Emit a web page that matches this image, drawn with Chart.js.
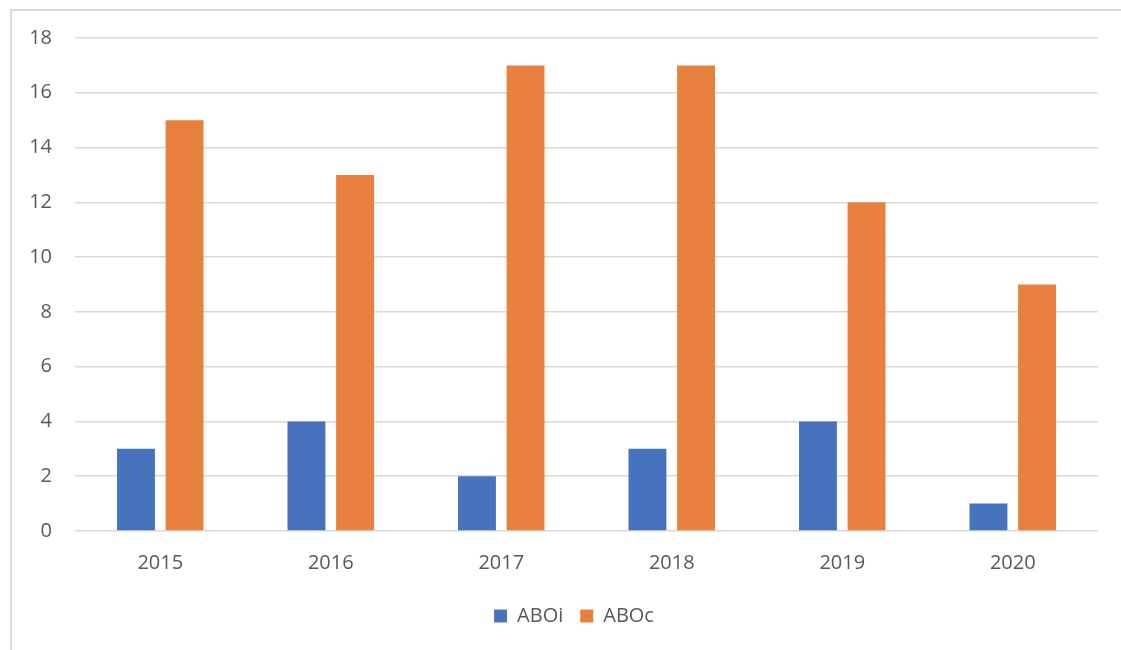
<!DOCTYPE html>
<html lang="en">
<head>
    <meta charset="UTF-8">
    <title>ABOi / ABOc</title>
    <script src="https://cdn.jsdelivr.net/npm/chart.js"></script>
    <style>
        body { margin: 0; background: #fff; }
        #wrap { position: relative; width: 1121px; height: 650px; overflow: hidden; }
        #frame { position: absolute; left: 10px; top: 9px; width: 1200px; height: 700px;
                 border-left: 2px solid #d9d9d9; border-top: 2px solid #d9d9d9; }
        canvas { position: absolute; left: 0; top: 0; }
    </style>
</head>
<body>
<div id="wrap">
    <div id="frame"></div>
    <canvas id="barChart" width="1121" height="650"></canvas>
</div>
<script>
    // data
    var years = ['2015', '2016', '2017', '2018', '2019', '2020'];
    var aboi = [3, 4, 2, 3, 4, 1];
    var aboc = [15, 13, 17, 17, 12, 9];

    var grey = '#595959';
    var fnt = { family: 'Open Sans', size: 20 };

    // the original legend is centred on the (cropped) frame, a bit right of the canvas centre
    var shiftLegend = {
        id: 'shiftLegend',
        afterLayout: function (chart) {
            chart.legend.left += 25;
            chart.legend.right += 25;
        }
    };

    var ctx = document.getElementById('barChart').getContext('2d');
    new Chart(ctx, {
        type: 'bar',
        data: {
            labels: years,
            datasets: [
                { label: 'ABOi', data: aboi, backgroundColor: '#4672BE' },
                { label: 'ABOc', data: aboc, backgroundColor: '#E8803E' }
            ]
        },
        options: {
            responsive: false,
            animation: false,
            layout: { padding: { left: 0, right: 23, top: 38, bottom: 14 } },
            datasets: { bar: { categoryPercentage: 0.57, barPercentage: 0.78 } },
            plugins: {
                tooltip: { enabled: false },
                legend: {
                    position: 'bottom',
                    labels: { boxWidth: 13, boxHeight: 13, padding: 17, color: grey, font: fnt }
                }
            },
            scales: {
                x: {
                    grid: { display: false, drawTicks: false },
                    border: { display: false },
                    ticks: { color: grey, font: fnt, padding: 20 },
                    afterFit: function (s) { s.height = 58; }
                },
                y: {
                    min: 0,
                    max: 18,
                    ticks: { stepSize: 2, color: grey, font: fnt, padding: 23 },
                    grid: { color: '#d9d9d9', lineWidth: 1.5, drawTicks: false },
                    border: { display: false },
                    afterFit: function (s) { s.width = 75; }
                }
            }
        },
        plugins: [shiftLegend]
    });
</script>
</body>
</html>
